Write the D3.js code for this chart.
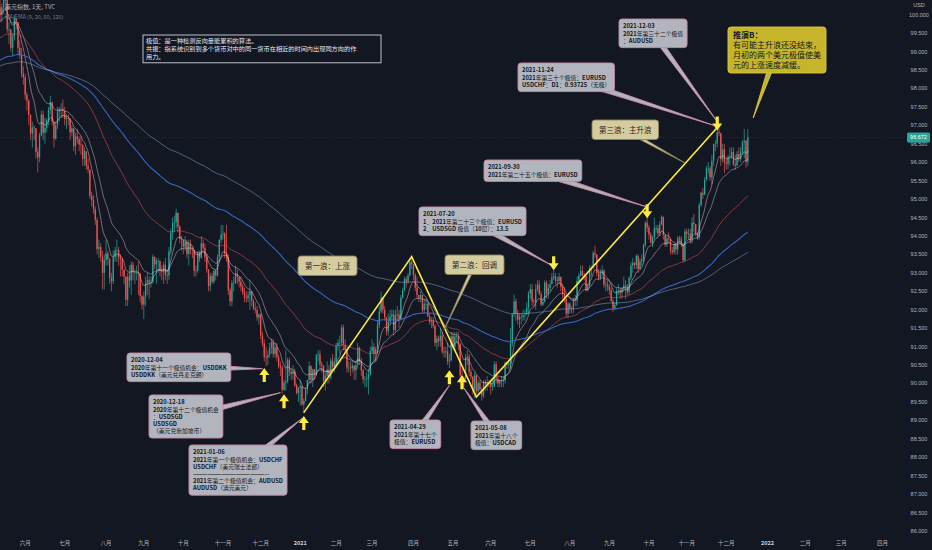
<!DOCTYPE html>
<html>
<head>
<meta charset="utf-8"/>
<title>美元指数</title>
<script src="https://cdn.jsdelivr.net/npm/d3@7"></script>
<style>
  html, body { margin: 0; padding: 0; background: #131722; }
  svg text { font-family: "Noto Sans CJK SC", "Noto Sans", sans-serif; }
  .num { font-family: "Liberation Sans", "DejaVu Sans", sans-serif; }
</style>
</head>
<body>
<svg id="chart" width="932" height="550"></svg>
<script>
// Daily DXY (TVC), 2020-05-12 .. 2021-12-17, one line per month.
const firstOpen = 100.2;
const closes = [
  100.0,100.2,100.4,100.4,99.6,99.6,99.1,99.4,99.9,99.8,99.1,98.9,98.4,98.3,
  97.83,97.67,97.28,96.78,96.94,96.92,96.28,96.13,96.73,97.29,96.80,96.93,97.14,97.42,97.63,97.10,96.64,97.00,97.37,97.44,97.45,97.39,
  97.17,97.20,97.18,96.81,96.92,96.43,96.70,96.63,96.48,96.46,96.09,96.30,95.90,95.80,95.09,94.97,94.73,94.43,93.65,93.70,93.43,93.00,93.35,
  93.53,93.37,92.86,92.77,93.42,93.61,93.62,93.42,93.37,93.09,92.90,92.27,92.90,92.79,93.22,93.01,93.01,93.02,92.98,92.37,92.14,
  92.35,92.73,92.80,92.74,92.75,93.44,93.23,93.33,93.33,93.05,93.02,93.22,92.94,92.93,93.58,94.09,94.36,94.38,94.63,94.25,93.93,93.89,
  93.71,93.84,93.51,93.78,93.64,93.61,93.05,93.06,93.53,93.40,93.80,93.68,93.43,93.09,92.64,92.92,92.76,93.05,92.93,93.43,93.90,94.04,
  94.07,93.52,93.43,92.53,92.23,92.72,92.73,92.96,92.89,92.76,92.63,92.46,92.33,92.31,92.39,92.50,92.24,92.03,91.99,91.79,91.87,
  91.31,91.09,90.72,90.70,90.78,90.97,91.12,90.80,90.98,90.71,90.48,90.44,89.83,90.02,90.06,90.63,90.32,90.26,90.33,89.95,89.74,89.89,
  89.93,89.43,89.53,89.83,90.10,90.47,90.09,90.38,90.23,90.77,90.79,90.52,90.48,90.07,90.21,90.38,90.16,90.62,90.45,90.58,
  91.02,91.10,91.11,91.52,91.04,90.94,90.43,90.43,90.42,90.48,90.36,90.50,90.97,90.60,90.36,90.12,90.12,90.14,90.24,90.88,
  90.99,90.80,90.93,91.59,91.95,92.33,92.00,91.80,91.41,91.67,91.82,91.87,91.45,91.86,91.87,91.75,92.33,92.53,92.83,92.76,92.93,93.29,93.23,
  92.94,92.60,92.40,92.33,92.40,91.99,92.16,92.16,91.82,91.67,91.71,91.56,91.10,91.22,91.15,91.30,90.87,90.84,90.87,90.60,90.62,91.28,
  90.99,91.28,91.28,91.06,90.22,90.14,90.13,90.72,90.73,90.31,90.18,89.83,90.22,89.79,90.02,89.84,89.67,90.04,89.98,90.03,90.02,
  89.91,89.92,90.52,90.13,90.00,90.08,90.08,90.08,90.56,90.51,90.54,91.09,91.88,92.23,91.90,91.73,91.80,91.80,91.85,91.87,92.06,92.44,
  92.56,92.23,92.21,92.56,92.68,92.42,92.14,92.21,92.74,92.43,92.60,92.69,92.88,92.91,92.80,92.78,92.89,92.62,92.43,92.30,91.89,92.17,
  92.04,92.03,92.27,92.25,92.78,92.93,93.05,92.93,92.92,92.53,92.64,93.13,93.15,93.54,93.50,92.99,92.87,92.98,93.06,92.68,92.68,92.63,
  92.53,92.24,92.03,92.13,92.51,92.53,92.47,92.58,92.66,92.63,92.48,92.87,93.20,93.27,93.21,93.46,93.10,93.31,93.37,93.76,94.36,94.23,
  94.04,93.81,93.97,94.21,94.21,94.07,94.31,94.52,94.03,93.77,93.93,93.92,93.60,93.56,93.78,93.63,93.94,93.93,93.76,93.34,94.12,
  94.06,94.07,93.88,94.36,94.32,94.07,93.96,94.84,95.17,95.12,95.52,95.83,95.83,95.59,96.04,96.50,96.51,96.81,96.79,96.08,96.35,95.99,
  95.96,96.13,96.16,96.28,95.94,95.91,96.22,96.08,96.29,96.54,96.58,96.02,96.672
];
const highs = [
  100.4,100.3,100.56,100.5,100.4,99.8,99.6,99.5,100.0,99.9,99.8,99.3,99.1,98.6,
  98.4,97.9,97.7,97.3,97.1,97.0,96.9,96.4,96.8,97.4,97.4,97.2,97.2,97.5,97.8,97.6,97.1,97.1,97.5,97.5,97.6,97.7,
  97.5,97.3,97.3,97.2,97.0,96.9,96.8,96.9,96.7,96.7,96.5,96.4,96.3,96.1,95.8,95.2,95.1,94.8,94.5,93.9,93.8,93.6,93.5,
  93.9,93.6,93.4,93.0,93.6,93.7,93.9,93.7,93.5,93.4,93.1,92.9,93.0,93.2,93.3,93.3,93.1,93.2,93.3,93.0,92.4,
  92.5,92.9,93.0,92.9,92.9,93.5,93.4,93.4,93.4,93.3,93.2,93.3,93.4,93.1,93.7,94.2,94.5,94.55,94.74,94.6,94.3,94.0,
  93.9,94.0,93.9,93.9,93.9,93.7,93.6,93.2,93.6,93.6,94.0,93.9,93.8,93.5,93.1,93.0,93.0,93.1,93.1,93.5,93.9,94.3,
  94.3,94.1,94.3,93.5,92.6,92.8,92.9,93.2,93.1,92.9,92.9,92.7,92.6,92.5,92.5,92.8,92.5,92.3,92.2,92.1,91.9,
  91.9,91.4,91.2,91.0,90.9,91.1,91.2,91.2,91.1,91.1,90.8,90.6,90.5,90.1,90.9,90.7,90.7,90.4,90.5,90.4,90.0,89.9,
  90.1,89.9,89.6,89.9,90.1,90.6,90.5,90.4,90.4,90.8,90.9,90.9,90.6,90.5,90.3,90.6,90.5,90.7,90.8,90.7,
  91.1,91.2,91.3,91.6,91.6,91.2,91.0,90.6,90.6,90.6,90.5,90.6,91.1,91.0,90.7,90.4,90.2,90.3,90.4,91.0,
  91.2,91.1,91.0,91.7,92.1,92.5,92.3,92.1,91.8,91.9,92.0,92.0,92.0,92.0,92.1,92.0,92.4,92.6,92.9,92.9,93.0,93.35,93.44,
  93.2,93.0,92.9,92.4,92.5,92.4,92.3,92.3,92.2,91.9,91.8,91.8,91.6,91.3,91.3,91.5,91.4,91.0,91.0,91.1,90.8,91.4,
  91.4,91.4,91.4,91.4,91.1,90.4,90.2,90.8,90.9,90.8,90.4,90.2,90.3,90.2,90.1,90.1,89.9,90.1,90.1,90.2,90.1,
  90.1,90.1,90.6,90.6,90.2,90.1,90.2,90.2,90.6,90.6,90.6,91.5,91.9,92.41,92.3,92.0,91.9,91.9,92.0,92.0,92.2,92.5,
  92.7,92.7,92.3,92.7,92.8,92.8,92.5,92.3,92.8,92.8,92.7,92.8,93.0,93.19,93.0,92.9,93.0,92.9,92.7,92.6,92.3,92.2,
  92.2,92.1,92.3,92.4,92.9,93.0,93.2,93.2,93.0,92.9,92.7,93.2,93.2,93.6,93.73,93.5,93.1,93.1,93.2,93.1,92.8,92.8,
  92.7,92.6,92.3,92.2,92.6,92.7,92.6,92.6,92.9,92.8,92.7,92.9,93.3,93.4,93.3,93.5,93.5,93.4,93.5,93.8,94.4,94.5,
  94.3,94.1,94.0,94.5,94.3,94.3,94.4,94.56,94.5,94.0,94.0,94.1,93.9,93.7,93.8,93.8,94.0,94.0,94.0,93.8,94.2,
  94.2,94.2,94.2,94.5,94.6,94.3,94.1,94.9,95.2,95.3,95.6,95.9,96.0,95.9,96.2,96.5,96.6,96.94,96.9,96.8,96.5,96.5,
  96.1,96.2,96.4,96.4,96.4,96.2,96.3,96.4,96.4,96.6,96.9,96.6,96.9
];
const lows = [
  99.8,99.8,100.0,100.1,99.5,99.2,99.0,98.9,99.3,99.6,98.9,98.8,98.3,98.1,
  97.7,97.4,97.0,96.6,96.4,96.6,96.1,95.72,96.0,96.7,96.6,96.5,96.8,97.0,97.3,97.0,96.4,96.6,96.9,97.1,97.2,97.2,
  97.0,96.9,97.0,96.6,96.7,96.3,96.2,96.5,96.3,96.2,95.9,95.9,95.8,95.7,95.0,94.8,94.6,94.3,93.5,93.4,93.3,92.55,92.55,
  93.2,93.2,92.7,92.5,92.7,93.3,93.3,93.2,92.9,92.9,92.7,92.1,92.1,92.6,92.4,92.8,92.7,92.8,92.4,92.2,92.0,
  91.75,92.1,92.4,92.3,92.6,92.7,93.1,92.7,93.0,92.9,92.8,92.7,92.8,92.7,92.8,93.5,93.9,94.1,94.2,94.1,93.8,93.6,
  93.5,93.6,93.4,93.2,93.5,93.4,92.9,92.9,93.0,93.3,93.4,93.6,93.3,93.0,92.5,92.5,92.7,92.7,92.8,92.9,93.3,93.8,
  93.9,93.4,93.3,92.4,92.1,92.1,92.5,92.7,92.7,92.6,92.5,92.4,92.2,92.2,92.2,92.0,92.1,92.0,91.9,91.7,91.6,
  91.2,91.0,90.6,90.47,90.5,90.7,90.8,90.7,90.7,90.6,90.4,90.2,89.72,89.8,89.8,90.0,90.2,90.1,90.1,89.9,89.7,89.5,
  89.4,89.4,89.21,89.5,89.7,90.0,90.0,89.9,90.1,90.2,90.6,90.4,90.3,89.9,89.8,90.0,90.0,90.1,90.3,90.3,
  90.5,90.9,90.8,91.0,90.9,90.8,90.3,90.3,90.2,90.3,90.1,90.1,90.4,90.5,90.2,90.0,89.9,89.9,89.7,90.2,
  90.8,90.6,90.6,90.8,91.5,91.9,91.9,91.7,91.3,91.3,91.6,91.7,91.3,91.4,91.7,91.5,91.7,92.3,92.5,92.6,92.7,92.9,93.1,
  92.8,92.5,92.3,92.2,92.2,91.9,91.9,92.0,91.8,91.6,91.5,91.5,91.0,90.9,91.0,91.0,90.8,90.7,90.7,90.5,90.42,90.6,
  90.9,90.9,91.1,90.9,89.98,90.0,89.9,90.1,90.5,90.2,90.1,89.7,89.6,89.7,89.7,89.8,89.53,89.6,89.8,89.8,89.9,
  89.7,89.8,89.9,90.0,89.9,89.9,89.9,89.9,90.0,90.4,90.4,90.4,91.0,91.8,91.7,91.6,91.5,91.6,91.7,91.7,91.9,91.9,
  92.3,92.1,92.1,92.0,92.5,92.4,92.1,92.1,92.2,92.3,92.3,92.5,92.7,92.8,92.7,92.6,92.7,92.5,92.3,92.2,91.8,91.78,
  91.9,91.9,91.9,92.1,92.1,92.7,92.9,92.9,92.8,92.5,92.5,92.6,92.9,93.1,93.4,92.9,92.8,92.8,92.9,92.6,92.5,92.5,
  92.4,92.2,91.94,92.0,92.1,92.4,92.3,92.3,92.5,92.3,92.4,92.4,92.8,93.0,93.1,93.1,93.0,93.1,93.2,93.3,93.7,94.1,
  93.9,93.8,93.7,93.9,94.1,94.0,94.0,94.3,93.9,93.7,93.7,93.8,93.5,93.5,93.5,93.5,93.5,93.8,93.7,93.3,93.3,
  93.9,93.9,93.8,93.8,94.1,94.0,93.9,93.9,94.8,95.0,95.1,95.5,95.7,95.5,95.4,95.9,96.3,96.4,96.7,95.9,96.0,95.7,
  95.8,95.8,95.9,96.1,95.9,95.8,95.9,96.0,96.0,96.2,96.1,95.85,95.9
];
const lastPrice = 96.672;

// Moving averages: periods and their values at the first bar.
const emaPeriods = [9, 20, 60, 120, 200];
const emaSeeds = [100.0, 99.8, 99.35, 98.75, 98.6];
const emaColors = ["rgba(255,205,210,0.55)", "rgba(225,225,240,0.5)", "rgba(229,83,80,0.65)", "rgba(58,110,210,0.9)", "rgba(150,185,235,0.55)"];

const monthNames = ["一月","二月","三月","四月","五月","六月","七月","八月","九月","十月","十一月","十二月"];
const priceTicks = d3.range(86, 100.001, 0.5);
const closedDays = ["2020-12-25", "2021-01-01"];

// Annotations (dates and prices).
const waves = [["2021-01-06", 89.21], ["2021-03-31", 93.44], ["2021-05-20", 89.63], ["2021-11-24", 96.94]];
const arrows = [
  ["2020-12-03", 90.42, "up"], ["2020-12-18", 89.71, "up"], ["2021-01-06", 89.12, "up"],
  ["2021-04-29", 90.36, "up"], ["2021-05-10", 90.22, "up"],
  ["2021-07-20", 93.07, "down"], ["2021-09-30", 94.48, "down"], ["2021-11-24", 96.86, "down"]
];
const notes = [
  {kind:"grey", x:127, y:353, tip:["2020-12-02", 90.40], lines:["2020-12-04","2020年第十一个极值机会：USDDKK","USDDKK（美元兑丹麦克朗）"]},
  {kind:"grey", x:149, y:395, tip:["2020-12-16", 89.75], lines:["2020-12-18","2020年第十二个极值机会","：USDSGD","USDSGD","（美元兑新加坡币）"]},
  {kind:"grey", x:189, y:445, tip:["2021-01-05", 89.05], lines:["2021-01-06","2021年第一个极值机会：USDCHF","USDCHF（美元瑞士法郎）","————————————————","2021年第二个极值机会：AUDUSD","AUDUSD（澳元美元）"]},
  {kind:"grey", x:390, y:420, tip:["2021-04-29", 89.95], lines:["2021-04-29","2021年第十七个","极值：EURUSD"]},
  {kind:"grey", x:471, y:421, tip:["2021-05-11", 89.88], lines:["2021-05-08","2021年第十八个","极值：USDCAD"]},
  {kind:"grey", x:419, y:207, tip:["2021-07-19", 93.2], lines:["2021-07-20","1．2021年第二十三个极值：EURUSD","2．USDSGD 极值（10层）：13.5"]},
  {kind:"grey", x:484, y:160, tip:["2021-09-29", 94.8], lines:["2021-09-30","2021年第二十五个极值：EURUSD"]},
  {kind:"grey", x:518, y:63, tip:["2021-11-22", 97.0], lines:["2021-11-24","2021年第三十个极值：EURUSD","USDCHF：D1：0.93725（无极）"]},
  {kind:"grey", x:619, y:19, tip:["2021-11-24", 97.1], lines:["2021-12-03","2021年第三十二个极值","：AUDUSD"]},
  {kind:"tan", x:298, y:256, lines:["第一浪：上涨"]},
  {kind:"tan", x:445, y:255, tip:["2021-04-26", 91.45], lines:["第二浪：回调"]},
  {kind:"tan", x:592, y:120, tip:["2021-10-29", 95.98], lines:["第三浪：主升浪"]},
  {kind:"yellow", x:728, y:27, tip:["2021-12-22", 97.2], lines:["推演B：","有可能主升浪还没结束，","月初的两个美元极值使美","元的上涨速度减缓。"]},
  {kind:"info", x:143, y:35, w:238, lines:["极值：是一种检测反向量能累积的算法。","共振：指系统识别到多个货币对中的同一货币在相近的时间内出现同方向的作","用力。"]}
];

const styles = {
  grey:   {fill:"#b2b5be", stroke:"#c98aa2", color:"#131722", size:5.8, lh:7.2, px:4, py:4.2, half:2.5},
  tan:    {fill:"#d4cc9e", stroke:"#8c8458", color:"#1e1e1e", size:7.5, lh:9,   px:7, py:6,   half:1.5},
  yellow: {fill:"#c6b42a", stroke:"#d9c93a", color:"#131722", size:8,   lh:10,  px:5, py:4,   half:2.5},
  info:   {fill:"#131722", stroke:"#d1d4dc", color:"#e6e8ee", size:6.2, lh:8.2, px:3, py:2.6, half:0}
};

// ---------------------------------------------------------------
const W = 932, H = 550, plotW = 906, plotH = 536;
const svg = d3.select("#chart");
svg.append("rect").attr("width", W).attr("height", H).attr("fill", "#131722");

// trading days: weekdays, except the closed days
const days = d3.utcDay.range(new Date(Date.UTC(2020, 4, 12)), new Date(Date.UTC(2022, 3, 30)))
  .filter(d => d.getUTCDay() !== 0 && d.getUTCDay() !== 6)
  .map(d => d3.utcFormat("%Y-%m-%d")(d))
  .filter(s => closedDays.indexOf(s) < 0);
const dayIndex = s => d3.bisectLeft(days, s);

const x = d3.scaleLinear().domain([0, 504]).range([0, plotW]);
const y = d3.scaleLinear().domain([86, 100]).range([531, 14.7]);
const pt = (d, p) => [x(dayIndex(d)), y(p)];

svg.append("clipPath").attr("id", "plot").append("rect").attr("width", plotW).attr("height", plotH);
const plot = svg.append("g").attr("clip-path", "url(#plot)");

// candles
const bars = closes.map((c, i) => {
  const o = i ? closes[i - 1] : firstOpen;
  return {i, o, c, h: Math.max(highs[i] ?? c, o, c), l: Math.min(lows[i] ?? c, o, c)};
});
const colorOf = d => d.c >= d.o ? "#26a69a" : "#ef5350";
plot.append("g").selectAll("line").data(bars).join("line")
  .attr("x1", d => x(d.i)).attr("x2", d => x(d.i))
  .attr("y1", d => y(d.h)).attr("y2", d => y(d.l))
  .attr("stroke", colorOf).attr("stroke-width", 0.7);
plot.append("g").selectAll("rect").data(bars).join("rect")
  .attr("x", d => x(d.i) - 0.65).attr("width", 1.3)
  .attr("y", d => y(Math.max(d.o, d.c)))
  .attr("height", d => Math.max(0.7, Math.abs(y(d.o) - y(d.c))))
  .attr("fill", colorOf);

// moving averages
emaPeriods.forEach((n, k) => {
  const a = 2 / (n + 1);
  let v = emaSeeds[k];
  const vals = closes.map(c => (v = v + a * (c - v)));
  plot.append("path").datum(vals)
    .attr("d", d3.line().x((d, i) => x(i)).y(d => y(d)).curve(d3.curveMonotoneX))
    .attr("fill", "none").attr("stroke", emaColors[k]).attr("stroke-width", k === 3 ? 1.1 : 0.85);
});

// last price line
plot.append("line").attr("x1", 0).attr("x2", plotW).attr("y1", y(lastPrice)).attr("y2", y(lastPrice))
  .attr("stroke", "#26a69a").attr("stroke-opacity", 0.35).attr("stroke-width", 0.7).attr("stroke-dasharray", "1,2");

// waves
plot.append("path").datum(waves)
  .attr("d", d3.line().x(d => pt(d[0], d[1])[0]).y(d => pt(d[0], d[1])[1]))
  .attr("fill", "none").attr("stroke", "#ffeb3b").attr("stroke-width", 1.6);

// callouts
function tailPoints(b, tip, half) {
  const cx = b.x + b.w / 2, cy = b.y + b.h / 2;
  const dx = tip[0] - cx, dy = tip[1] - cy;
  const t = Math.min(dx ? (b.w / 2) / Math.abs(dx) : 1e9, dy ? (b.h / 2) / Math.abs(dy) : 1e9);
  const ex = cx + dx * t * 0.8, ey = cy + dy * t * 0.8;
  const len = Math.hypot(dx, dy);
  const px = -dy / len * half, py = dx / len * half;
  return [[ex + px, ey + py], tip, [ex - px, ey - py]];
}
const noteLayer = svg.append("g");
notes.forEach(n => {
  const s = styles[n.kind];
  const g = noteLayer.append("g");
  const tailG = g.append("g"), boxG = g.append("g");
  let tw = 0;
  n.lines.forEach((ln, j) => {
    const t = g.append("text").attr("font-size", s.size).attr("fill", s.color)
      .attr("x", n.x + s.px).attr("y", n.y + s.py + s.size * 0.88 + j * s.lh);
    if (n.kind === "grey") {
      ln.split(/([\x00-\x7F]+)/).filter(p => p).forEach(p => {
        t.append("tspan").text(p).attr("font-weight", /[\x00-\x7F]/.test(p) ? "bold" : "normal");
      });
    } else {
      t.text(ln).attr("font-weight", n.kind === "yellow" && j === 0 ? "bold" : "normal");
    }
    tw = Math.max(tw, t.node().getComputedTextLength());
  });
  const b = {x: n.x, y: n.y, w: n.w || tw + 2 * s.px, h: (n.lines.length - 1) * s.lh + s.size + 2 * s.py};
  if (n.tip) {
    tailG.append("polygon").attr("points", tailPoints(b, pt(n.tip[0], n.tip[1]), s.half).join(" "))
      .attr("fill", s.fill).attr("stroke", s.stroke).attr("stroke-width", 0.9);
  }
  boxG.append("rect").attr("x", b.x).attr("y", b.y).attr("width", b.w).attr("height", b.h)
    .attr("rx", n.kind === "info" ? 0 : 3).attr("fill", s.fill).attr("stroke", s.stroke).attr("stroke-width", 0.9);
});

// yellow arrows
const arrowPath = "M0,0 L5,7 L1.6,7 L1.6,14 L-1.6,14 L-1.6,7 L-5,7 Z";
svg.append("g").selectAll("path").data(arrows).join("path")
  .attr("d", arrowPath)
  .attr("transform", d => {
    const p = pt(d[0], d[1]);
    return `translate(${p[0]},${p[1]})` + (d[2] === "down" ? " scale(1,-1)" : "");
  })
  .attr("fill", "#ffeb3b");

// price axis
const axisG = svg.append("g").attr("class", "num");
axisG.selectAll("text.tick").data(priceTicks).join("text")
  .attr("class", "tick num").attr("x", 919).attr("y", d => y(d) + 2)
  .attr("text-anchor", "middle").attr("font-size", 5.5).attr("fill", "#b2b5be")
  .text(d3.format(".3f"));
axisG.append("text").attr("class", "num").attr("x", 919).attr("y", 7).attr("text-anchor", "middle")
  .attr("font-size", 5.5).attr("fill", "#b2b5be").text("USD");
axisG.append("rect").attr("x", 907).attr("y", y(lastPrice) - 5).attr("width", 23).attr("height", 10)
  .attr("rx", 1.5).attr("fill", "#26a69a");
axisG.append("text").attr("class", "num").attr("x", 918.5).attr("y", y(lastPrice) + 2)
  .attr("text-anchor", "middle").attr("font-size", 5.5).attr("fill", "#ffffff").text(lastPrice.toFixed(3));

// time axis: first trading day of each month
const monthTicks = [];
days.forEach((s, i) => {
  if (i > 0 && s.slice(5, 7) !== days[i - 1].slice(5, 7)) monthTicks.push({i, s});
});
svg.append("g").selectAll("text").data(monthTicks.filter(d => x(d.i) < plotW - 8)).join("text")
  .attr("x", d => x(d.i)).attr("y", 545).attr("text-anchor", "middle")
  .attr("font-size", 5.5)
  .attr("font-weight", d => d.s.slice(5, 7) === "01" ? "bold" : "normal")
  .attr("fill", d => d.s.slice(5, 7) === "01" ? "#d1d4dc" : "#b2b5be")
  .text(d => d.s.slice(5, 7) === "01" ? d.s.slice(0, 4) : monthNames[+d.s.slice(5, 7) - 1]);

// legend
svg.append("text").attr("x", 5).attr("y", 9).attr("font-size", 6).attr("fill", "#b2b5be").text("美元指数, 1天, TVC");
svg.append("text").attr("x", 5).attr("y", 18.5).attr("font-size", 5.5).attr("fill", "#787b86").text("MA-EMA (9, 20, 60, 120)");
</script>
</body>
</html>
